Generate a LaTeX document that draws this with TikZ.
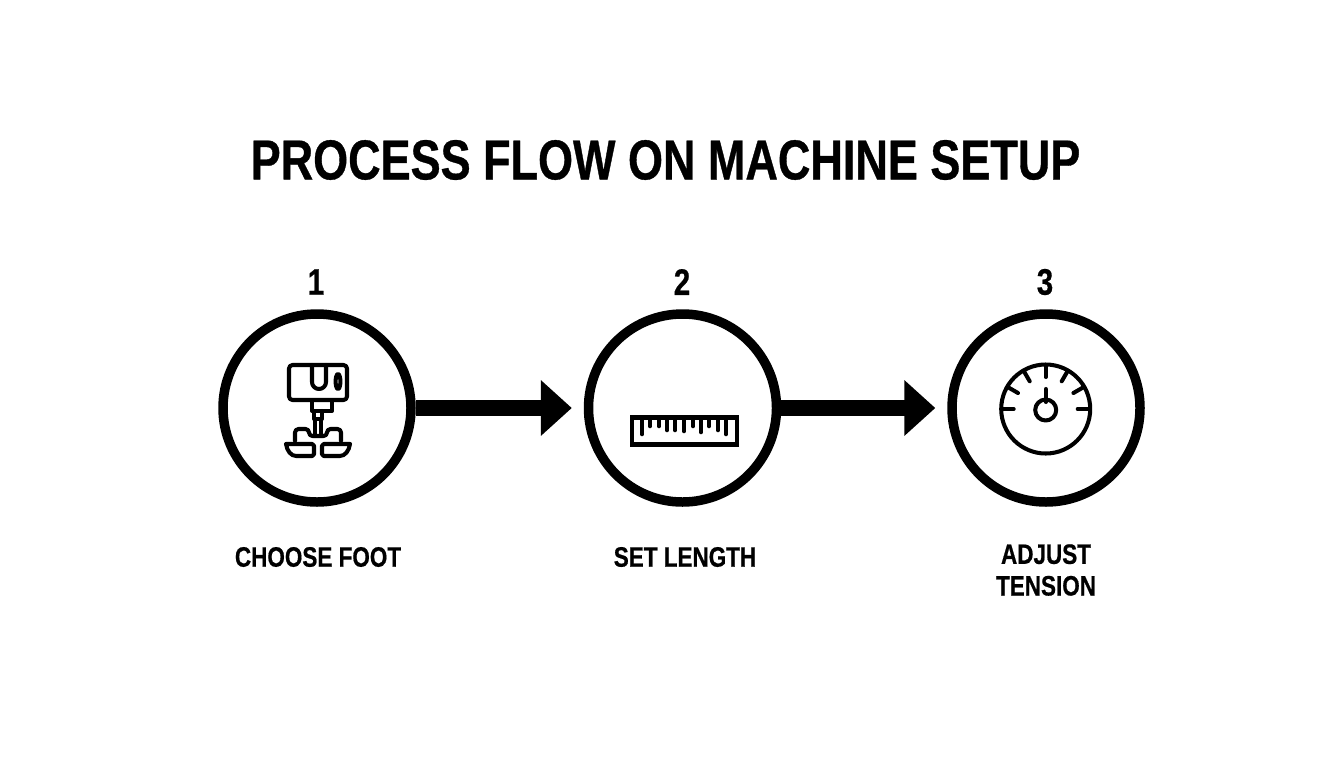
\documentclass[tikz,border=0pt]{standalone}
\usepackage{fontspec}
\setmainfont[FakeStretch=0.80,BoldFeatures={FakeBold=0.6}]{Liberation Sans}
\usetikzlibrary{arrows.meta,calc}

\tikzset{
  stepcircle/.style={circle,draw,line width=5.4pt,minimum size=188*0.02cm,inner sep=0pt},
  flowarrow/.style={line width=9pt,-{Triangle[length=17.6pt,width=30.6pt]},shorten >=6.8pt},
  icon/.style={line width=2.3pt,line join=round,line cap=round},
  titletext/.style={font=\fontsize{32}{36}\selectfont\bfseries},
  numtext/.style={font=\fontsize{21}{24}\selectfont\bfseries},
  steptext/.style={font=\fontsize{16}{18}\selectfont\bfseries,align=center}
}

\begin{document}
\begin{tikzpicture}[x=0.02cm,y=-0.02cm]
  \useasboundingbox (0,0) rectangle (1344,768);

  % Title
  \node [titletext] (title) at (665.5,160) {PROCESS FLOW ON MACHINE SETUP};

  % Steps: number, circle, caption
  \node [numtext] (num1) at (316,282) {1};
  \node [numtext] (num2) at (682,282) {2};
  \node [numtext] (num3) at (1045,282) {3};

  \node [stepcircle] (foot) at (317,408) {};
  \node [stepcircle] (ruler) at (682.5,408) {};
  \node [stepcircle] (gauge) at (1046,408) {};

  \node [steptext] (cap1) at (318,557) {CHOOSE FOOT};
  \node [steptext] (cap2) at (685,557) {SET LENGTH};
  \node [steptext] (cap3) at (1046,570) {ADJUST\\[0pt]TENSION};

  % Arrows between the steps
  \draw [flowarrow] (foot) -- (ruler);
  \draw [flowarrow] (ruler) -- (gauge);

  % Icon: presser foot
  \begin{scope}[icon]
    \draw [rounded corners=2pt] (289,365) rectangle (347,400);
    \draw (312,365) -- (312,382) arc (180:0:7) -- (326,365);
    \draw (338,381.5) ellipse (2.4 and 7.5);
    \draw (312,401) -- (312,411) -- (332,411) -- (332,401);
    \draw (314,411) -- (314,419) -- (322,419) -- (322,411);
    \draw (315,419) -- (315,436) (321,419) -- (321,436);
    \draw [rounded corners=2pt] (295,441) -- (295,429) -- (309,429) -- (309,436) -- (327,436) -- (327,429) -- (341,429) -- (341,441);
    \draw [rounded corners=1pt] (286,444) -- (314,444) -- (314,456) -- (298,456) .. controls (291,456) and (287,451) .. (286,444);
    \draw [rounded corners=1pt] (350,444) -- (322,444) -- (322,456) -- (338,456) .. controls (345,456) and (349,451) .. (350,444);
  \end{scope}

  % Icon: ruler
  \begin{scope}[icon,line cap=butt]
    \draw [line width=2.8pt,line join=miter] (632,417.5) rectangle (737,444.5);
    \foreach \tx/\tl in {642/434,650/426,659/426,667/430,675/430,684/431,693/426,701/432,709/426,718/430,726/434}
      \draw [line width=2.6pt,line cap=round] (\tx,418) -- (\tx,\tl);
  \end{scope}

  % Icon: gauge
  \begin{scope}[icon]
    \draw (1045.7,409) circle (44.5);
    \foreach \a in {0,30,60,90,120,150,180}
      \draw ($(1045.7,409)+(-\a:44)$) -- ($(1045.7,409)+(-\a:32)$);
    \draw (1045.7,410) circle (10.5);
    \draw (1045.7,389) -- (1045.7,402);
  \end{scope}
\end{tikzpicture}
\end{document}
